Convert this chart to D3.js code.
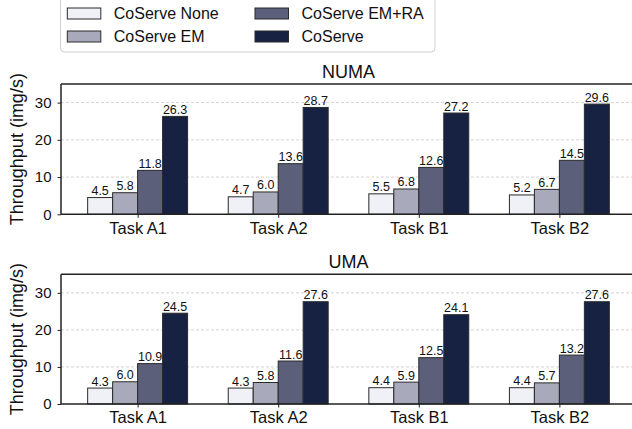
<!DOCTYPE html>
<html>
<head>
<meta charset="utf-8">
<script src="https://cdn.jsdelivr.net/npm/d3@7"></script>
<style>
  html, body { margin: 0; padding: 0; background: #fff; }
  svg { display: block; font-family: "Liberation Sans", Arial, Helvetica, sans-serif; }
</style>
</head>
<body>
<svg id="chart" width="632" height="429"></svg>
<script>
// ---- data ----
const tasks = ["Task A1", "Task A2", "Task B1", "Task B2"];
const seriesNames = ["CoServe None", "CoServe EM", "CoServe EM+RA", "CoServe"];
const seriesColors = ["#f0f0f7", "#a9a9bc", "#5b5f7a", "#172243"];
const numaValues = [
  [4.5, 4.7, 5.5, 5.2],
  [5.8, 6.0, 6.8, 6.7],
  [11.8, 13.6, 12.6, 14.5],
  [26.3, 28.7, 27.2, 29.6]
];
const umaValues = [
  [4.3, 4.3, 4.4, 4.4],
  [6.0, 5.8, 5.9, 5.7],
  [10.9, 11.6, 12.5, 13.2],
  [24.5, 27.6, 24.1, 27.6]
];
const yTicks = [0, 10, 20, 30];
const panelTitles = ["NUMA", "UMA"];

// ---- layout ----
const svg = d3.select("#chart");
const left = 61, right = 636;
const panels = [
  { title: panelTitles[0], values: numaValues, top: 84, bottom: 214.3 },
  { title: panelTitles[1], values: umaValues, top: 274.3, bottom: 404 }
];
const barW = 0.1777;
const x = d3.scaleLinear().domain([-0.545, tasks.length - 1 + 0.545]).range([left, right]);
const offsets = [-1.5, -0.5, 0.5, 1.5];

panels.forEach(p => {
  const y = d3.scaleLinear().domain([0, 35]).range([p.bottom, p.top]);
  const g = svg.append("g");

  // grid
  g.selectAll("line.grid").data(yTicks.filter(t => t > 0)).join("line")
    .attr("x1", left).attr("x2", right)
    .attr("y1", d => y(d)).attr("y2", d => y(d))
    .attr("stroke", "#c8c8c8").attr("stroke-width", 0.8)
    .attr("stroke-dasharray", "3,2");

  // bars
  p.values.forEach((vals, s) => {
    g.selectAll(null).data(vals).join("rect")
      .attr("x", (d, i) => x(i + (offsets[s] - 0.5) * barW))
      .attr("width", x(barW) - x(0))
      .attr("y", d => y(d))
      .attr("height", d => y(0) - y(d))
      .attr("fill", seriesColors[s])
      .attr("stroke", "#2a2a2a").attr("stroke-width", 1);
    g.selectAll(null).data(vals).join("text")
      .attr("x", (d, i) => x(i + offsets[s] * barW))
      .attr("y", d => y(d) - 2.5)
      .attr("text-anchor", "middle")
      .attr("font-size", 12.5)
      .attr("fill", "#111")
      .text(d => d.toFixed(1));
  });

  // y axis
  const yAxis = d3.axisLeft(y).tickValues(yTicks).tickSize(3.5).tickPadding(6);
  const ya = g.append("g").attr("transform", `translate(${left},0)`).call(yAxis);
  ya.select(".domain").remove();
  ya.selectAll(".tick line").attr("stroke", "#222");
  ya.selectAll(".tick text").attr("font-size", 15).attr("fill", "#111")
    .attr("font-family", "Liberation Sans, Arial, sans-serif");

  // x axis
  const xAxis = d3.axisBottom(x).tickValues(d3.range(tasks.length)).tickFormat(i => tasks[i]).tickSize(3.5).tickPadding(4);
  const xa = g.append("g").attr("transform", `translate(0,${p.bottom})`).call(xAxis);
  xa.select(".domain").remove();
  xa.selectAll(".tick line").attr("stroke", "#222");
  xa.selectAll(".tick text").attr("font-size", 16.5).attr("fill", "#111")
    .attr("font-family", "Liberation Sans, Arial, sans-serif");

  // spines
  g.append("line").attr("x1", left).attr("x2", right).attr("y1", p.top).attr("y2", p.top)
    .attr("stroke", "#222").attr("stroke-width", 1.5);
  g.append("line").attr("x1", left).attr("x2", right).attr("y1", p.bottom).attr("y2", p.bottom)
    .attr("stroke", "#222").attr("stroke-width", 1.5);
  g.append("line").attr("x1", left).attr("x2", left).attr("y1", p.top).attr("y2", p.bottom)
    .attr("stroke", "#222").attr("stroke-width", 1.5);

  // title
  g.append("text").attr("x", (left + right) / 2).attr("y", p.top - 6)
    .attr("text-anchor", "middle").attr("font-size", 18).attr("fill", "#111")
    .text(p.title);

  // y label
  g.append("text")
    .attr("transform", `translate(17,${(p.top + p.bottom) / 2}) rotate(-90)`)
    .attr("text-anchor", "middle").attr("dy", "0.35em")
    .attr("font-size", 18).attr("fill", "#111")
    .text("Throughput (img/s)");
});

// legend
const lg = svg.append("g");
lg.append("rect").attr("x", 60.5).attr("y", -6).attr("width", 374.5).attr("height", 58)
  .attr("rx", 4).attr("fill", "#fff").attr("stroke", "#d0d0d0").attr("stroke-width", 1);
const legendPos = [
  { px: 67.3, ty: 13.5 }, { px: 67.3, ty: 36.5 },
  { px: 255, ty: 13.5 }, { px: 255, ty: 36.5 }
];
seriesNames.forEach((name, i) => {
  const pos = legendPos[i];
  lg.append("rect").attr("x", pos.px).attr("y", pos.ty - 5.5).attr("width", 33.5).attr("height", 11)
    .attr("fill", seriesColors[i]).attr("stroke", "#2a2a2a").attr("stroke-width", 1);
  lg.append("text").attr("x", pos.px + 46.5).attr("y", pos.ty).attr("dy", "0.35em")
    .attr("font-size", 16).attr("fill", "#111").text(name);
});
</script>
</body>
</html>
